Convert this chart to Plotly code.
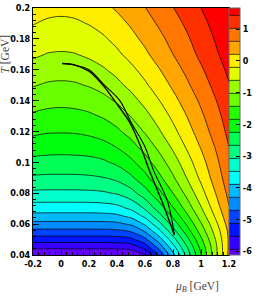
import plotly.graph_objects as go

# --- data ---
mu_B = [-0.2, -0.1, 0.0, 0.1, 0.2, 0.3, 0.4, 0.5, 0.6, 0.7, 0.8, 0.9, 1.0, 1.1, 1.2]
T_vals = [0.040, 0.045, 0.050, 0.055, 0.060, 0.065, 0.070, 0.080, 0.090, 0.100,
          0.110, 0.120, 0.130, 0.140, 0.150, 0.160, 0.170, 0.180, 0.190, 0.200]
z_vals = [
    [-6.32, -6.32, -6.32, -6.32, -6.32, -6.32, -6.32, -6.27, -5.94, -5.06, -4.00, -2.91, -1.83, -0.74, 0.34],
    [-5.81, -5.81, -5.81, -5.81, -5.81, -5.81, -5.80, -5.73, -5.36, -4.56, -3.62, -2.66, -1.69, -0.73, 0.30],
    [-5.31, -5.31, -5.31, -5.31, -5.31, -5.31, -5.29, -5.20, -4.80, -4.07, -3.22, -2.36, -1.49, -0.62, 0.30],
    [-4.83, -4.83, -4.83, -4.83, -4.83, -4.83, -4.80, -4.68, -4.27, -3.60, -2.83, -2.04, -1.25, -0.47, 0.32],
    [-4.41, -4.41, -4.41, -4.41, -4.41, -4.40, -4.37, -4.22, -3.81, -3.18, -2.48, -1.76, -1.04, -0.32, 0.41],
    [-4.02, -4.02, -4.02, -4.02, -4.02, -4.01, -3.96, -3.78, -3.38, -2.80, -2.15, -1.49, -0.82, -0.15, 0.51],
    [-3.68, -3.68, -3.68, -3.68, -3.68, -3.66, -3.60, -3.40, -3.01, -2.46, -1.87, -1.25, -0.63, -0.01, 0.61],
    [-3.13, -3.14, -3.14, -3.14, -3.13, -3.10, -3.01, -2.79, -2.41, -1.93, -1.41, -0.87, -0.33, 0.21, 0.75],
    [-2.69, -2.71, -2.71, -2.71, -2.69, -2.65, -2.53, -2.30, -1.94, -1.51, -1.05, -0.57, -0.09, 0.39, 0.87],
    [-2.35, -2.37, -2.38, -2.37, -2.35, -2.29, -2.15, -1.91, -1.58, -1.19, -0.78, -0.35, 0.08, 0.52, 0.95],
    [-2.03, -2.06, -2.07, -2.06, -2.03, -1.95, -1.80, -1.56, -1.25, -0.90, -0.52, -0.13, 0.26, 0.65, 1.05],
    [-1.73, -1.78, -1.79, -1.78, -1.73, -1.64, -1.48, -1.25, -0.96, -0.63, -0.29, 0.07, 0.43, 0.79, 1.15],
    [-1.47, -1.52, -1.54, -1.52, -1.47, -1.37, -1.21, -0.98, -0.71, -0.41, -0.09, 0.24, 0.57, 0.90, 1.24],
    [-1.22, -1.28, -1.30, -1.28, -1.22, -1.11, -0.95, -0.73, -0.47, -0.19, 0.11, 0.41, 0.71, 1.02, 1.33],
    [-0.97, -1.04, -1.06, -1.04, -0.97, -0.86, -0.69, -0.48, -0.24, 0.02, 0.30, 0.58, 0.86, 1.15, 1.44],
    [-0.75, -0.82, -0.84, -0.82, -0.75, -0.63, -0.47, -0.27, -0.04, 0.21, 0.47, 0.73, 1.00, 1.27, 1.54],
    [-0.52, -0.60, -0.62, -0.60, -0.52, -0.41, -0.25, -0.05, 0.16, 0.40, 0.64, 0.89, 1.14, 1.39, 1.65],
    [-0.34, -0.42, -0.44, -0.42, -0.34, -0.23, -0.07, 0.12, 0.32, 0.54, 0.77, 1.00, 1.24, 1.48, 1.72],
    [-0.16, -0.235, -0.26, -0.235, -0.16, -0.05, 0.10, 0.28, 0.48, 0.69, 0.90, 1.12, 1.35, 1.57, 1.80],
    [0.02, -0.055, -0.08, -0.055, 0.02, 0.13, 0.28, 0.45, 0.63, 0.83, 1.04, 1.25, 1.46, 1.67, 1.89],
]

# freeze-out style curves (two nearly coincident branches)
curve_a_mu = [0.007, 0.10, 0.20, 0.29, 0.39, 0.49, 0.57, 0.63, 0.72, 0.81]
curve_a_T = [0.164, 0.163, 0.159, 0.151, 0.139, 0.126, 0.110, 0.095, 0.075, 0.053]
curve_b_mu = [0.007, 0.10, 0.20, 0.31, 0.42, 0.50, 0.60, 0.66, 0.76, 0.81]
curve_b_T = [0.164, 0.163, 0.160, 0.150, 0.140, 0.126, 0.110, 0.095, 0.075, 0.053]

z_min, z_max, n_levels = -6.32, 1.87, 20
cbar_tickvals = [-6, -5, -4, -3, -2, -1, 0, 1]
cbar_ticktext = ["-6", "-5", "-4", "-3", "-2", "-1", "0", "1"]
x_tickvals = [-0.2, 0, 0.2, 0.4, 0.6, 0.8, 1.0, 1.2]
x_ticktext = ["-0.2", "0", "0.2", "0.4", "0.6", "0.8", "1", "1.2"]
y_tickvals = [0.04, 0.06, 0.08, 0.1, 0.12, 0.14, 0.16, 0.18, 0.2]
y_ticktext = ["0.04", "0.06", "0.08", "0.1", "0.12", "0.14", "0.16", "0.18", "0.2"]

# ROOT-like rainbow palette (violet -> red), 20 bands
band_colors = [
    "rgb(99,0,255)", "rgb(51,0,255)", "rgb(0,20,255)", "rgb(0,68,255)", "rgb(0,139,255)",
    "rgb(0,187,255)", "rgb(0,255,252)", "rgb(0,255,204)", "rgb(0,255,133)", "rgb(0,255,85)",
    "rgb(0,255,14)", "rgb(34,255,0)", "rgb(105,255,0)", "rgb(153,255,0)", "rgb(224,255,0)",
    "rgb(255,238,0)", "rgb(255,167,0)", "rgb(255,119,0)", "rgb(255,48,0)", "rgb(255,0,0)",
]
colorscale = [[i / (len(band_colors) - 1), c] for i, c in enumerate(band_colors)]
step = (z_max - z_min) / n_levels

tick_font = dict(family="Liberation Sans Narrow, DejaVu Sans Condensed, sans-serif",
                 size=9, color="black", weight="bold")

fig = go.Figure()
fig.add_trace(go.Contour(
    x=mu_B, y=T_vals, z=z_vals,
    colorscale=colorscale,
    contours=dict(start=z_min + step, end=z_max - step + 1e-6, size=step, coloring="fill"),
    line=dict(color="black", width=0.7, smoothing=1.0),
    colorbar=dict(x=1.0, xanchor="left", xpad=0, ypad=0, len=1, lenmode="fraction",
                  y=0.5, yanchor="middle", thickness=11, thicknessmode="pixels",
                  outlinewidth=1, outlinecolor="#666",
                  tickvals=cbar_tickvals, ticktext=cbar_ticktext,
                  ticks="inside", ticklen=4, tickcolor="black", tickfont=tick_font),
    showscale=True,
))
fig.add_trace(go.Scatter(x=curve_a_mu, y=curve_a_T, mode="lines",
                         line=dict(color="black", width=1.4, shape="spline"), showlegend=False))
fig.add_trace(go.Scatter(x=curve_b_mu, y=curve_b_T, mode="lines",
                         line=dict(color="black", width=1.1, shape="spline"), showlegend=False))

fig.update_xaxes(range=[-0.2, 1.2], tickvals=x_tickvals, ticktext=x_ticktext,
                 ticks="inside", ticklen=6, tickcolor="black", tickfont=tick_font,
                 minor=dict(dtick=0.04, ticks="inside", ticklen=3, tickcolor="black"),
                 showline=True, linecolor="black", linewidth=1, mirror=True,
                 showgrid=False, zeroline=False, automargin=False)
fig.update_yaxes(range=[0.04, 0.2], tickvals=y_tickvals, ticktext=y_ticktext,
                 ticks="inside", ticklen=6, tickcolor="black", tickfont=tick_font,
                 minor=dict(dtick=0.004, ticks="inside", ticklen=3, tickcolor="black"),
                 showline=True, linecolor="black", linewidth=1, mirror=True,
                 showgrid=False, zeroline=False, automargin=False)

title_font = dict(family="Liberation Serif, DejaVu Serif, serif", size=11.5, color="#444")
fig.add_annotation(text="<i>T</i> [GeV]", xref="paper", yref="paper",
                   x=-0.145, y=0.814, textangle=-90, showarrow=False, font=title_font,
                   xanchor="center", yanchor="middle")
fig.add_annotation(text="<i>μ</i><sub><i>B</i></sub> [GeV]", xref="paper", yref="paper",
                   x=0.837, y=-0.13, showarrow=False, font=title_font,
                   xanchor="center", yanchor="middle")

fig.update_layout(width=259, height=300,
                  margin=dict(l=33, r=30, t=8, b=45, autoexpand=False),
                  paper_bgcolor="white", plot_bgcolor="white", showlegend=False)

fig.write_html("out.html", config={"displayModeBar": False},
               post_script="document.body.style.margin='0';")
